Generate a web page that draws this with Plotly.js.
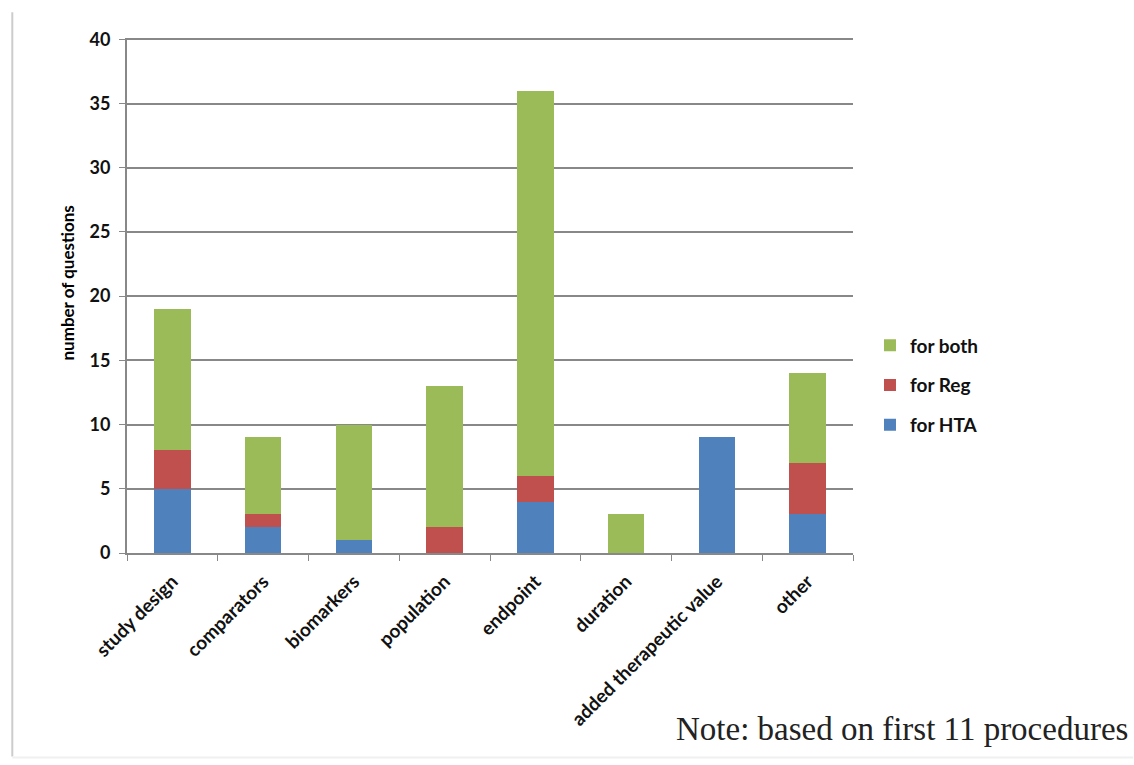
<!DOCTYPE html>
<html>
<head>
<meta charset="utf-8">
<script src="https://cdn.plot.ly/plotly-3.0.1.min.js"></script>
<style>html,body{margin:0;padding:0;background:#fff;}#chart{width:1134px;height:765px;}</style>
</head>
<body>
<div id="chart"></div>
<script>
const categories = ["study design","comparators","biomarkers","population","endpoint","duration","added therapeutic value","other"];
const forHTA  = [5, 2, 1, 0, 4, 0, 9, 3];
const forReg  = [3, 1, 0, 2, 2, 0, 0, 4];
const forBoth = [11, 6, 9, 11, 30, 3, 0, 7];
const seriesNames = ["for HTA","for Reg","for both"];
const yTicks = [0,5,10,15,20,25,30,35,40];
const yTitle = "number of questions";
const note = "Note: based on first 11 procedures";

const FONT = "Lato, 'Open Sans', sans-serif";
const colors = ["#4f81bd","#c0504d","#9bbb59"];
const vals = [forHTA, forReg, forBoth];
const traces = vals.map((v,i)=>({
  type:"bar", x:categories, y:v, name:seriesNames[i], legendgroup:"g"+i,
  legendrank: 3 - i,
  marker:{color:colors[i], line:{width:0}}
}));

const layout = {
  width:1134, height:765,
  margin:{l:127, r:281, t:38, b:212},
  barmode:"stack", bargap:0.6,
  paper_bgcolor:"#fff", plot_bgcolor:"#fff",
  font:{family:FONT, color:"#000"},
  showlegend:true,
  legend:{x:1.0234, y:0.44, xanchor:"left", yanchor:"top", traceorder:"grouped",
    font:{size:19, family:FONT, weight:"bold", color:"#111"}, tracegroupgap:12, itemwidth:30},
  xaxis:{type:"category", tickangle:-45, tickson:"boundaries", ticks:"outside", ticklen:6,
    tickcolor:"#888", showline:true, linecolor:"#888", linewidth:2, showgrid:false,
    ticklabelstandoff:8,
    tickfont:{size:19, family:FONT, weight:"bold", color:"#111"}},
  yaxis:{range:[0,40.1], tickvals:yTicks, ticks:"outside", ticklen:6, tickcolor:"#888",
    showline:true, linecolor:"#888", linewidth:2, showgrid:true, gridcolor:"#888", gridwidth:2,
    zeroline:false, ticklabelstandoff:5,
    tickfont:{size:18, family:FONT, weight:"bold", color:"#111"}},
  shapes:[
    {type:"line", xref:"paper", yref:"paper", x0:-0.158, x1:-0.158, y0:1.05, y1:-0.395, line:{color:"#ccc", width:2}},
    {type:"line", xref:"paper", yref:"paper", x0:-0.158, x1:1.386, y0:-0.397, y1:-0.397, line:{color:"#f0f0f0", width:2}}
  ],
  annotations:[
    {xref:"paper", yref:"paper", x:(68-127)/726, y:1-(284-38)/516, xanchor:"center", yanchor:"middle",
     textangle:-90, showarrow:false, text:yTitle,
     font:{size:17, family:FONT, weight:"bold", color:"#000"}},
    {xref:"paper", yref:"paper", x:1.381, y:-0.341, xanchor:"right", yanchor:"middle", showarrow:false,
     text:note,
     font:{family:"Liberation Serif, DejaVu Serif, serif", size:33, color:"#222"}}
  ]
};
Plotly.newPlot("chart", traces, layout, {staticPlot:true});
</script>
</body>
</html>
